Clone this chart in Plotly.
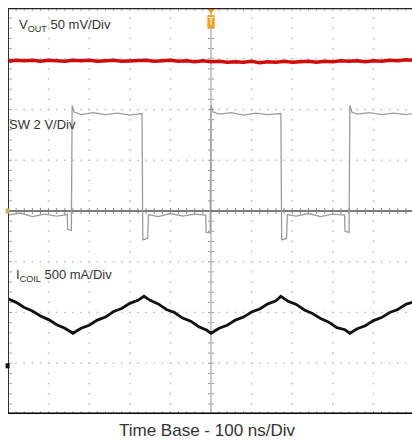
import plotly.graph_objects as go

# ---------------- data (time in ns, 100 ns/div; vertical in screen divisions, 8 div tall) ----------------
vout_t = [0, 20, 40, 60, 80, 100, 120, 140, 160, 180, 200, 220, 240, 260, 280, 300, 320, 340, 360, 380,
          400, 420, 440, 460, 480, 500, 520, 540, 560, 580, 600, 620, 640, 660, 680, 700, 720, 740, 760, 780,
          800, 820, 840, 860, 880, 900, 920, 940, 960, 980, 995]
vout_v = [6.95, 6.97, 6.96, 6.97, 6.95, 6.97, 6.96, 6.95, 6.97, 6.96,
          6.97, 6.95, 6.96, 6.97, 6.95, 6.96, 6.96, 6.97, 6.95, 6.96,
          6.97, 6.95, 6.96, 6.94, 6.96, 6.94, 6.95, 6.93, 6.94, 6.93,
          6.95, 6.92, 6.94, 6.93, 6.95, 6.93, 6.94, 6.95, 6.93, 6.95,
          6.94, 6.96, 6.95, 6.96, 6.94, 6.96, 6.95, 6.97, 6.96, 6.98, 6.97]

sw_t = [0, 30, 60, 90, 120, 146, 147, 156, 158, 163, 180, 210, 240, 270, 300, 330, 332, 344, 346, 370,
        400, 430, 460, 487, 488, 498, 500, 505, 520, 550, 580, 610, 640, 672, 674, 686, 688, 710, 740, 770,
        800, 829, 830, 840, 842, 847, 860, 890, 920, 950, 980, 995]
sw_v = [3.92, 3.96, 3.89, 3.94, 3.90, 3.93, 3.64, 3.62, 6.08, 5.95,
        5.90, 5.94, 5.90, 5.93, 5.89, 5.92, 3.43, 3.46, 3.93, 3.89,
        3.95, 3.90, 3.94, 3.92, 3.58, 3.57, 6.08, 5.95, 5.91, 5.94,
        5.89, 5.93, 5.90, 5.92, 3.43, 3.46, 3.93, 3.90, 3.95, 3.89,
        3.94, 3.92, 3.60, 3.58, 6.08, 5.95, 5.91, 5.94, 5.90, 5.93, 5.90, 5.92]

icoil_t = [0, 20, 40, 60, 80, 100, 120, 140, 160, 180, 200, 220, 240, 260, 280, 300, 320, 335,
           350, 370, 390, 410, 430, 450, 470, 490, 500, 520, 540, 560, 580, 600, 620, 640, 660, 672,
           690, 710, 730, 750, 770, 790, 810, 830, 842, 860, 880, 900, 920, 940, 960, 980, 995]
icoil_v = [2.27, 2.20, 2.10, 2.03, 1.93, 1.86, 1.76, 1.69, 1.59, 1.69, 1.75, 1.85, 1.91, 2.02, 2.08, 2.18, 2.24, 2.32,
           2.24, 2.17, 2.06, 2.00, 1.89, 1.83, 1.72, 1.65, 1.59, 1.69, 1.75, 1.85, 1.91, 2.01, 2.07, 2.17, 2.23, 2.32,
           2.22, 2.16, 2.05, 1.98, 1.88, 1.81, 1.70, 1.66, 1.59, 1.68, 1.74, 1.84, 1.90, 2.00, 2.06, 2.16, 2.20]

labels = {
    "vout": "V<sub>OUT</sub> 50 mV/Div",
    "sw": "SW 2 V/Div",
    "icoil": "I<sub>COIL</sub> 500 mA/Div",
    "time": "Time Base - 100 ns/Div",
}

# ---------------- scope chrome (generated grid) ----------------
NS_PER_DIV = 100
X_MAX = 995
FONT = "Liberation Sans, Arial, sans-serif"

fig = go.Figure()

gx, gy = [], []
for k in [1, 2, 3, 4, 6, 7, 8, 9]:
    for j in range(0, 41):
        gx.append(k * NS_PER_DIV); gy.append(j * 0.2)
for k in [1, 2, 3, 5, 6, 7]:
    for i in range(0, 50):
        gx.append(i * NS_PER_DIV / 5); gy.append(k)
fig.add_trace(go.Scatter(x=gx, y=gy, mode="markers", hoverinfo="skip",
                         marker=dict(symbol="square", size=1.6, color="#c2c2c2", line=dict(width=0))))


def seg_trace(xs, ys, color, width):
    fig.add_trace(go.Scatter(x=xs, y=ys, mode="lines", hoverinfo="skip", cliponaxis=False,
                             line=dict(color=color, width=width)))


# center horizontal ticks (vertical marks), center vertical ticks (horizontal marks)
tx, ty = [], []
for i in range(0, 50):
    x = i * NS_PER_DIV / 5
    tx += [x, x, None]; ty += [4 - 0.06, 4 + 0.06, None]
seg_trace(tx, ty, "#8a8a8a", 1)
tx, ty = [], []
for j in range(0, 41):
    y = j * 0.2
    tx += [500 - 7.5, 500 + 7.5, None]; ty += [y, y, None]
seg_trace(tx, ty, "#9a9a9a", 1)
# border ticks
tx, ty = [], []
for j in range(0, 41):
    y = j * 0.2
    tx += [0, 10, None]; ty += [y, y, None]
for i in range(0, 50):
    x = i * NS_PER_DIV / 5
    tx += [x, x, None]; ty += [8, 8 - 0.06, None]
    tx += [x, x, None]; ty += [0, 0.06, None]
seg_trace(tx, ty, "#a8a8a8", 1)

# center lines
seg_trace([500, 500], [0, 8], "#b8b8b8", 1.5)
seg_trace([0, X_MAX], [4, 4], "#7c7c7c", 2)

# ---------------- traces ----------------
fig.add_trace(go.Scatter(x=sw_t, y=sw_v, mode="lines", name="SW", hoverinfo="skip",
                         line=dict(color="#9c9c9c", width=1.3)))
fig.add_trace(go.Scatter(x=icoil_t, y=icoil_v, mode="lines", name="ICOIL", hoverinfo="skip",
                         line=dict(color="#111111", width=2.8)))
fig.add_trace(go.Scatter(x=vout_t, y=vout_v, mode="lines", name="VOUT", hoverinfo="skip",
                         line=dict(color="#d10a0a", width=3.4)))

# trigger marker
fig.add_trace(go.Scatter(x=[500], y=[7.95], mode="markers", hoverinfo="skip", cliponaxis=False,
                         marker=dict(symbol="triangle-down", size=7, color="#f5a020")))

shapes = [
    dict(type="rect", xref="x", yref="y", x0=491, x1=509, y0=7.60, y1=7.86,
         fillcolor="#f5a020", line=dict(width=0), layer="above"),
    dict(type="line", xref="x", yref="y", x0=0, x1=0, y0=0, y1=8,
         line=dict(color="#3a2c2c", width=2), layer="above"),
    dict(type="line", xref="x", yref="y", x0=0, x1=X_MAX, y0=8, y1=8,
         line=dict(color="#2a1a1a", width=2.5), layer="above"),
    dict(type="line", xref="x", yref="y", x0=0, x1=X_MAX, y0=0, y1=0,
         line=dict(color="#000000", width=3), layer="above"),
    # channel ground markers on the left edge
    dict(type="rect", xref="paper", yref="y", x0=-0.006, x1=0.004, y0=3.95, y1=4.05,
         fillcolor="#c8b060", line=dict(width=0), layer="above"),
    dict(type="rect", xref="paper", yref="y", x0=-0.006, x1=0.004, y0=0.90, y1=1.00,
         fillcolor="#111111", line=dict(width=0), layer="above"),
]

annotations = [
    dict(text="T", x=500, y=7.73, xref="x", yref="y", showarrow=False,
         font=dict(family=FONT, size=10, color="white")),
    dict(text=labels["vout"], xref="paper", yref="paper", x=0.022, y=0.958, xanchor="left", yanchor="middle",
         showarrow=False, font=dict(family=FONT, size=13, color="#333333")),
    dict(text=labels["sw"], xref="paper", yref="paper", x=-0.003, y=0.712, xanchor="left", yanchor="middle",
         showarrow=False, font=dict(family=FONT, size=13, color="#333333")),
    dict(text=labels["icoil"], xref="paper", yref="paper", x=0.016, y=0.342, xanchor="left", yanchor="middle",
         showarrow=False, font=dict(family=FONT, size=13, color="#333333")),
    dict(text=labels["time"], xref="paper", yref="paper", x=0.495, y=-0.040, xanchor="center", yanchor="middle",
         showarrow=False, font=dict(family=FONT, size=17, color="#333333")),
]

fig.update_layout(
    width=412, height=440,
    margin=dict(l=8, r=0, t=8, b=26),
    paper_bgcolor="white", plot_bgcolor="white",
    showlegend=False,
    xaxis=dict(range=[0, X_MAX], visible=False, fixedrange=True),
    yaxis=dict(range=[0, 8], visible=False, fixedrange=True),
    shapes=shapes, annotations=annotations,
)

fig.write_html("out.html")
